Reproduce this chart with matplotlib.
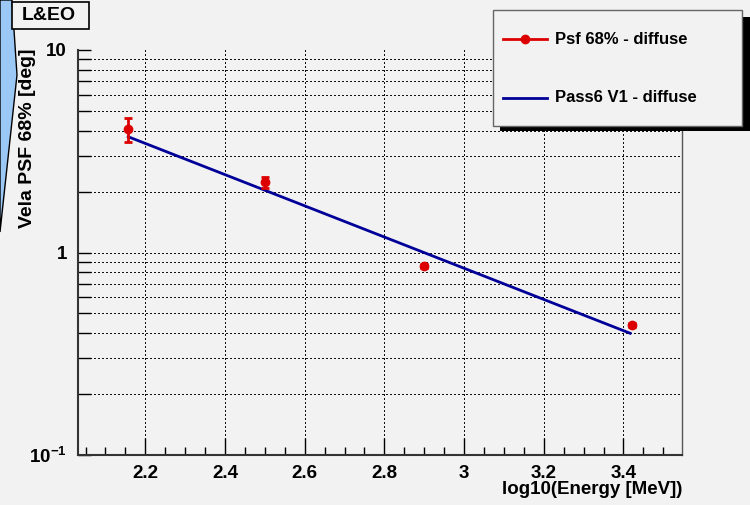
import matplotlib
matplotlib.use("Agg")
import matplotlib.pyplot as plt
from matplotlib.patches import Rectangle, Polygon
from matplotlib.lines import Line2D
from matplotlib.ticker import FixedLocator, FixedFormatter, MultipleLocator, NullFormatter
import numpy as np

plt.rcParams['font.family'] = ['Liberation Sans', 'DejaVu Sans']
plt.rcParams['font.weight'] = 'bold'
plt.rcParams['mathtext.default'] = 'regular'

# ---- data ----
energy = [2.157, 2.5, 2.9, 3.421]
psf68 = [4.06, 2.24, 0.86, 0.438]
psf_err_lo = [0.54, 0.16, 0.02, 0.01]
psf_err_hi = [0.54, 0.12, 0.02, 0.01]
model_x = [2.157, 3.417]
model_y = [3.73, 0.399]
xticks = [2.2, 2.4, 2.6, 2.8, 3.0, 3.2, 3.4]
xtick_labels = ['2.2', '2.4', '2.6', '2.8', '3', '3.2', '3.4']
yticks = [0.1, 1, 10]
ytick_labels = [r'$10^{-1}$', '1', '10']
legend_labels = ['Psf 68% - diffuse', 'Pass6 V1 - diffuse']

W, H = 750, 505
BG = '#f2f2f2'
RED = '#dd0000'
BLUE = '#000099'
TICKFS = 13.5

fig = plt.figure(figsize=(W / 100, H / 100), dpi=100, facecolor=BG)

def fx(px):
    return px / W

def fy(py):
    return 1 - py / H

ax = fig.add_axes([fx(78), fy(455), fx(682) - fx(78), fy(50) - fy(455)])
ax.set_facecolor(BG)
ax.set_yscale('log')
ax.set_xlim(2.031, 3.547)
ax.set_ylim(0.1, 10)

# grid
GRID_LS = (0, (1, 2))
minor_y = [m * 10.0 ** e for e in (-1, 0) for m in range(2, 10)]
for yv in minor_y + [1]:
    ax.axhline(yv, color='#111111', lw=1.0, ls=GRID_LS, zorder=1, antialiased=False)
for xv in xticks:
    ax.axvline(xv, color='#111111', lw=1.0, ls=GRID_LS, zorder=1, antialiased=False)

ax.xaxis.set_major_locator(FixedLocator(xticks))
ax.xaxis.set_major_formatter(FixedFormatter(xtick_labels))
ax.xaxis.set_minor_locator(MultipleLocator(0.05))
ax.yaxis.set_major_locator(FixedLocator(yticks))
ax.yaxis.set_major_formatter(FixedFormatter(ytick_labels))
ax.yaxis.set_minor_locator(FixedLocator(minor_y))
ax.yaxis.set_minor_formatter(NullFormatter())

ax.tick_params(axis='x', which='major', direction='in', length=12, width=1, labelsize=TICKFS, pad=7, top=False)
ax.tick_params(axis='x', which='minor', direction='in', length=6, width=1, top=False)
ax.tick_params(axis='y', which='major', direction='in', length=9, width=1, labelsize=TICKFS, pad=8, right=False)
ax.tick_params(axis='y', which='minor', direction='in', length=9, width=1, right=False)
for lab in ax.get_xticklabels() + ax.get_yticklabels():
    lab.set_fontweight('bold')

for side in ['left', 'bottom']:
    ax.spines[side].set_linewidth(1.5)
    ax.spines[side].set_color('#333333')
ax.spines['top'].set_visible(False)
ax.spines['right'].set_linewidth(1.0)
ax.spines['right'].set_color('#555555')

# model line
ax.plot(model_x, model_y, color=BLUE, lw=2, zorder=3)
# data points
ax.errorbar(energy, psf68, yerr=[psf_err_lo, psf_err_hi], fmt='o', color=RED,
            ms=6, elinewidth=2, capsize=3, capthick=2, zorder=4)

# axis labels
fig.text(fx(682), fy(490), 'log10(Energy [MeV])', ha='right', va='center',
         fontsize=13.5, fontweight='bold')
fig.text(fx(28), fy(49), 'Vela PSF 68% [deg]', ha='center', va='top',
         rotation=90, fontsize=14, fontweight='bold')

# decorative blue shape at left
poly = Polygon([(fx(0), fy(0)), (fx(12), fy(0)), (fx(17), fy(75)), (fx(0), fy(232))],
               closed=True, transform=fig.transFigure, facecolor='#9cc8f5',
               edgecolor='black', lw=1, zorder=0)
fig.add_artist(poly)

# L&EO box
fig.add_artist(Rectangle((fx(12), fy(29)), fx(89) - fx(12), fy(2) - fy(29),
                         transform=fig.transFigure, facecolor=BG, edgecolor='black', lw=1.2))
fig.text(fx(49), fy(16), 'L&EO', ha='center', va='center', fontsize=14, fontweight='bold')

# legend (shadow + box)
fig.add_artist(Rectangle((fx(500), fy(131)), fx(750) - fx(500), fy(17) - fy(131),
                         transform=fig.transFigure, facecolor='black', edgecolor='none', zorder=5))
fig.add_artist(Rectangle((fx(493), fy(126)), fx(742) - fx(493), fy(10) - fy(126),
                         transform=fig.transFigure, facecolor=BG, edgecolor='#666666', lw=1, zorder=6))
fig.add_artist(Line2D([fx(503), fx(547)], [fy(39), fy(39)], transform=fig.transFigure,
                      color=RED, lw=2, zorder=7))
fig.add_artist(Line2D([fx(525)], [fy(39)], transform=fig.transFigure,
                      color=RED, marker='o', ms=6, lw=0, zorder=7))
fig.add_artist(Line2D([fx(503), fx(547)], [fy(98), fy(98)], transform=fig.transFigure,
                      color=BLUE, lw=2, zorder=7))
fig.text(fx(555), fy(39), legend_labels[0], ha='left', va='center', fontsize=12,
         fontweight='bold', zorder=8)
fig.text(fx(555), fy(98), legend_labels[1], ha='left', va='center', fontsize=12,
         fontweight='bold', zorder=8)

fig.savefig('out.png', dpi=100, facecolor=BG)
